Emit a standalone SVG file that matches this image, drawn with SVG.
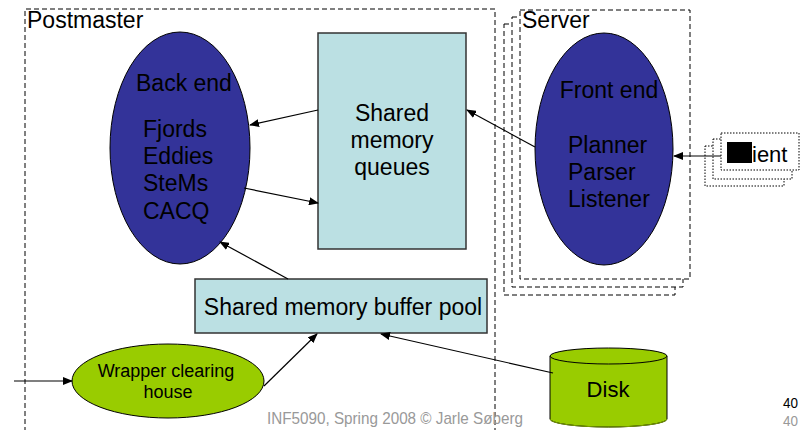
<svg xmlns="http://www.w3.org/2000/svg" width="804" height="430" viewBox="0 0 804 430">
<defs>
<marker id="ah" markerWidth="10" markerHeight="8" refX="9" refY="4" orient="auto" markerUnits="userSpaceOnUse">
<path d="M0,0 L10,4 L0,8 z" fill="#000"/>
</marker>
<style>
.t{font-family:"Liberation Sans",Arial,sans-serif;fill:#000;font-size:23px}
.dash{fill:none;stroke:#000;stroke-width:1;stroke-dasharray:5,3}
.dashw{fill:#fff;stroke:#000;stroke-width:1;stroke-dasharray:5,3}
.dot{fill:#fff;stroke:#000;stroke-width:1;stroke-dasharray:1.5,1.5}
.blue{fill:#333399;stroke:#000;stroke-width:1}
.cyan{fill:#BBE0E3;stroke:#333;stroke-width:1.5}
.green{fill:#99CC00;stroke:#000;stroke-width:1}
.c{fill:none;stroke:#000;stroke-width:1.2}
.g{font-family:"Liberation Sans",Arial,sans-serif;fill:#999}
</style>
</defs>
<rect width="804" height="430" fill="#fff"/>

<g id="postmaster">
<path class="dash" d="M25,432 L25,9 L495,9 L495,432"/>
<text class="t" x="27" y="28">Postmaster</text>
</g>

<g id="server">
<rect class="dashw" x="504" y="24" width="171" height="271"/>
<rect class="dashw" x="512" y="17" width="171" height="270"/>
<rect class="dashw" x="520" y="10" width="170" height="269"/>
<text class="t" x="522" y="28">Server</text>
</g>

<g id="client">
<rect class="dot" x="705" y="146" width="79" height="40"/>
<rect class="dot" x="713" y="139" width="79" height="40"/>
<rect class="dot" x="721" y="133" width="78" height="37"/>
<rect x="727" y="142" width="25" height="21" fill="#000"/>
<text class="t" x="752" y="162" style="font-size:22px">ient</text>
</g>

<g id="backend">
<ellipse class="blue" cx="180" cy="148" rx="70" ry="116"/>
<text class="t" x="136" y="91">Back end</text>
<text class="t" x="143" y="137">Fjords</text>
<text class="t" x="143" y="164">Eddies</text>
<text class="t" x="143" y="191">SteMs</text>
<text class="t" x="143" y="219">CACQ</text>
</g>

<g id="queues">
<rect class="cyan" x="318" y="33" width="148" height="216"/>
<text class="t" x="392" y="121" text-anchor="middle">Shared</text>
<text class="t" x="392" y="148" text-anchor="middle">memory</text>
<text class="t" x="392" y="175" text-anchor="middle">queues</text>
</g>

<g id="frontend">
<ellipse class="blue" cx="604" cy="149" rx="69" ry="116"/>
<text class="t" x="609" y="98" text-anchor="middle">Front end</text>
<text class="t" x="568" y="153">Planner</text>
<text class="t" x="568" y="180">Parser</text>
<text class="t" x="568" y="207">Listener</text>
</g>

<g id="bufferpool">
<rect class="cyan" x="195" y="279" width="292" height="54"/>
<text class="t" x="343" y="315" text-anchor="middle">Shared memory buffer pool</text>
</g>

<g id="wrapper">
<ellipse class="green" cx="168" cy="381" rx="96" ry="37"/>
<text class="t" x="166" y="377" text-anchor="middle" style="font-size:18px">Wrapper clearing</text>
<text class="t" x="168" y="398" text-anchor="middle" style="font-size:18px">house</text>
</g>

<g id="disk">
<path class="green" d="M550,356 L550,419 A58.5,8 0 0 0 667,419 L667,356"/>
<ellipse class="green" cx="608.5" cy="356" rx="58.5" ry="8"/>
<path d="M550,419 A58.5,8 0 0 0 667,419" fill="none" stroke="#7a9f00" stroke-width="1"/>
<text class="t" x="608" y="397" text-anchor="middle" style="font-size:22px">Disk</text>
</g>

<g id="connectors">
<line class="c" x1="721" y1="156" x2="674" y2="156" marker-end="url(#ah)"/>
<line class="c" x1="535" y1="147" x2="467" y2="110" marker-end="url(#ah)"/>
<line class="c" x1="318" y1="110" x2="250" y2="125" marker-end="url(#ah)"/>
<line class="c" x1="244" y1="188" x2="318" y2="203" marker-end="url(#ah)"/>
<line class="c" x1="288" y1="279" x2="220" y2="242" marker-end="url(#ah)"/>
<line class="c" x1="14" y1="381" x2="72" y2="381" marker-end="url(#ah)"/>
<line class="c" x1="264" y1="386" x2="317" y2="334" marker-end="url(#ah)"/>
<line class="c" x1="553" y1="373" x2="381" y2="334" marker-end="url(#ah)"/>
</g>

<g id="footer">
<text class="g" x="267" y="424" font-size="17" textLength="256" lengthAdjust="spacingAndGlyphs">INF5090, Spring 2008 © Jarle Søberg</text>
<text class="t" x="783" y="408" style="font-size:14px" textLength="15" lengthAdjust="spacingAndGlyphs">40</text>
<text class="g" x="783" y="426" font-size="14" textLength="15" lengthAdjust="spacingAndGlyphs">40</text>
</g>
</svg>
